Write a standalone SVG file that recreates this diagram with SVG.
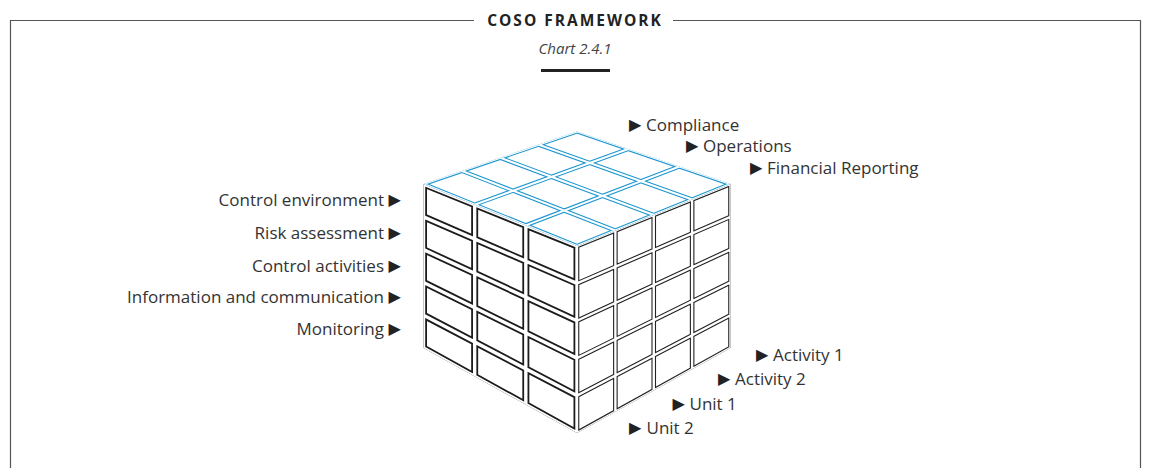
<svg xmlns="http://www.w3.org/2000/svg" xmlns:xlink="http://www.w3.org/1999/xlink" width="1150" height="468" viewBox="0 0 1150 468">
  <style>
    .frame { fill: none; stroke: #555; stroke-width: 1.2; }
    .title { font-family: "Open Sans", "Liberation Sans", sans-serif; font-weight: 700; font-size: 15.5px; letter-spacing: 2px; fill: #222; }
    .sub { font-family: "Open Sans", "Liberation Sans", sans-serif; font-style: italic; font-size: 15px; fill: #444; }
    .lbl { font-family: "Open Sans", "Liberation Sans", sans-serif; font-size: 17px; fill: #333; }
    .tri { font-family: "DejaVu Sans", sans-serif; font-size: 16px; fill: #222; }
    .grid { fill: none; stroke-linecap: square; }
    .fl-out { stroke: #1c1c1c; stroke-width: 7; }
    .fl-in { stroke: #fff; stroke-width: 3.4; }
    .rt-out { stroke: #222; stroke-width: 4.6; }
    .rt-in { stroke: #fff; stroke-width: 2.4; }
    .tp-out { stroke: #1f97d0; stroke-width: 4.2; }
    .tp-in { stroke: #fff; stroke-width: 2; }
  </style>
  <defs>
    <clipPath id="clip-front"><polygon points="423.5,184 577,246 577,433 423.5,348"/></clipPath>
    <clipPath id="clip-side"><polygon points="577,246 730.5,184 730.5,348 577,433"/></clipPath>
    <clipPath id="clip-top"><polygon points="423.5,184 577,131.5 730.5,184 577,246"/></clipPath>
    <!-- grid lines of each face; drawn twice (wide coloured, then narrow white) to get double-line cells -->
    <path id="grid-front" d="M423.5 184V348M474.67 204.67V376.33M525.83 225.33V404.67M577 246V433M423.5 184L577 246M423.5 216.8L577 283.4M423.5 249.6L577 320.8M423.5 282.4L577 358.2M423.5 315.2L577 395.6M423.5 348L577 433"/>
    <path id="grid-side" d="M577 246V433M615.38 230.5V411.75M653.75 215V390.5M692.13 199.5V369.25M730.5 184V348M577 246L730.5 184M577 283.4L730.5 216.8M577 320.8L730.5 249.6M577 358.2L730.5 282.4M577 395.6L730.5 315.2M577 433L730.5 348"/>
    <path id="grid-top" d="M423.5 184L577 131.5M474.67 204.67L628.17 149M525.83 225.33L679.33 166.5M577 246L730.5 184M423.5 184L577 246M461.88 170.88L615.38 230.5M500.25 157.75L653.75 215M538.63 144.63L692.13 199.5M577 131.5L730.5 184"/>
  </defs>

  <rect width="1150" height="468" fill="#fff"/>

  <g id="frame">
    <path class="frame" d="M10.5 468V20.5H474M673 20.5H1140.5V468"/>
  </g>

  <g id="title">
    <text class="title" x="575" y="26" text-anchor="middle">COSO FRAMEWORK</text>
    <text class="sub" x="575" y="53.5" text-anchor="middle">Chart 2.4.1</text>
    <line x1="541" y1="70.5" x2="610" y2="70.5" stroke="#222" stroke-width="3"/>
  </g>

  <g id="cube">
    <g id="face-front" clip-path="url(#clip-front)">
      <use xlink:href="#grid-front" class="grid fl-out"/>
      <use xlink:href="#grid-front" class="grid fl-in"/>
    </g>
    <g id="face-side" clip-path="url(#clip-side)">
      <use xlink:href="#grid-side" class="grid rt-out"/>
      <use xlink:href="#grid-side" class="grid rt-in"/>
    </g>
    <g id="face-top" clip-path="url(#clip-top)">
      <use xlink:href="#grid-top" class="grid tp-out"/>
      <use xlink:href="#grid-top" class="grid tp-in"/>
    </g>
  </g>

  <g id="components">
    <g id="control-environment"><text class="lbl" x="384" y="206" text-anchor="end">Control environment</text><text class="tri" x="388.5" y="205">▶</text></g>
    <g id="risk-assessment"><text class="lbl" x="384" y="239" text-anchor="end">Risk assessment</text><text class="tri" x="388.5" y="238">▶</text></g>
    <g id="control-activities"><text class="lbl" x="384" y="271.5" text-anchor="end">Control activities</text><text class="tri" x="388.5" y="270.5">▶</text></g>
    <g id="information-communication"><text class="lbl" x="384" y="303" text-anchor="end">Information and communication</text><text class="tri" x="388.5" y="302">▶</text></g>
    <g id="monitoring"><text class="lbl" x="384" y="335" text-anchor="end">Monitoring</text><text class="tri" x="388.5" y="334">▶</text></g>
  </g>

  <g id="objectives">
    <g id="compliance"><text class="tri" x="629" y="130">▶</text><text class="lbl" x="646" y="131">Compliance</text></g>
    <g id="operations"><text class="tri" x="686" y="151">▶</text><text class="lbl" x="703" y="152">Operations</text></g>
    <g id="financial-reporting"><text class="tri" x="750" y="173">▶</text><text class="lbl" x="767" y="174">Financial Reporting</text></g>
  </g>

  <g id="entity-levels">
    <g id="activity-1"><text class="tri" x="756" y="359.5">▶</text><text class="lbl" x="773" y="360.5">Activity 1</text></g>
    <g id="activity-2"><text class="tri" x="718" y="384">▶</text><text class="lbl" x="735" y="385">Activity 2</text></g>
    <g id="unit-1"><text class="tri" x="672.5" y="408.5">▶</text><text class="lbl" x="689.5" y="409.5">Unit 1</text></g>
    <g id="unit-2"><text class="tri" x="629" y="433">▶</text><text class="lbl" x="646.5" y="434">Unit 2</text></g>
  </g>
</svg>
